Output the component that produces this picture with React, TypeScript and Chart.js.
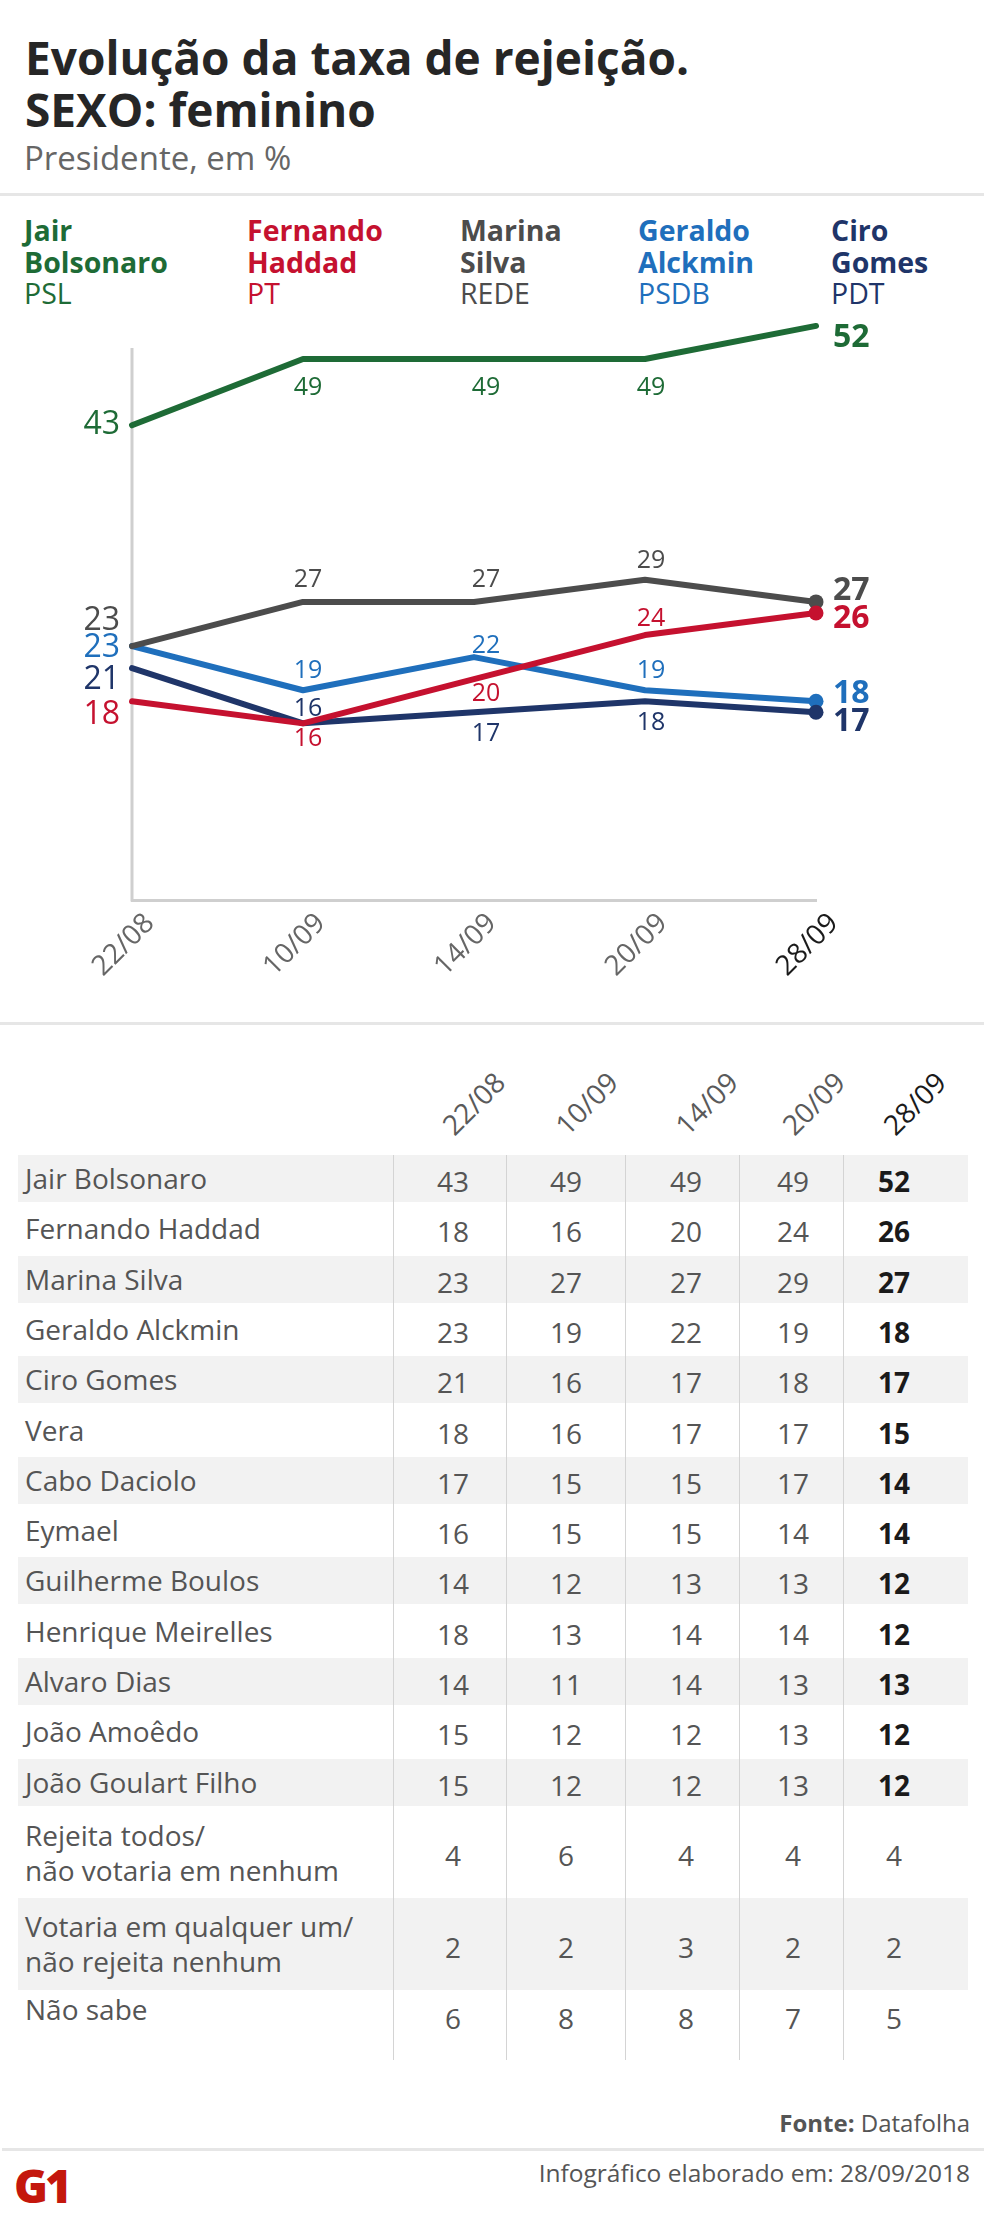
import React, { useEffect, useRef } from "react";
import { Chart, registerables } from "chart.js";

Chart.register(...registerables);

const FONT = '"Open Sans", "Noto Sans", sans-serif';

// ---------- data ----------
const dates = ["22/08", "10/09", "14/09", "20/09", "28/09"];

const bolsonaro = [43, 49, 49, 49, 52];
const haddad = [18, 16, 20, 24, 26];
const marina = [23, 27, 27, 29, 27];
const alckmin = [23, 19, 22, 19, 18];
const ciro = [21, 16, 17, 18, 17];
const vera = [18, 16, 17, 17, 15];
const daciolo = [17, 15, 15, 17, 14];
const eymael = [16, 15, 15, 14, 14];
const boulos = [14, 12, 13, 13, 12];
const meirelles = [18, 13, 14, 14, 12];
const alvaroDias = [14, 11, 14, 13, 13];
const amoedo = [15, 12, 12, 13, 12];
const goulart = [15, 12, 12, 13, 12];
const rejeitaTodos = [4, 6, 4, 4, 4];
const votariaQualquer = [2, 2, 3, 2, 2];
const naoSabe = [6, 8, 8, 7, 5];

const tableLabels = [
  "Jair Bolsonaro",
  "Fernando Haddad",
  "Marina Silva",
  "Geraldo Alckmin",
  "Ciro Gomes",
  "Vera",
  "Cabo Daciolo",
  "Eymael",
  "Guilherme Boulos",
  "Henrique Meirelles",
  "Alvaro Dias",
  "João Amoêdo",
  "João Goulart Filho",
  "Rejeita todos/\nnão votaria em nenhum",
  "Votaria em qualquer um/\nnão rejeita nenhum",
  "Não sabe",
];
const tableValues = [
  bolsonaro, haddad, marina, alckmin, ciro, vera, daciolo, eymael, boulos,
  meirelles, alvaroDias, amoedo, goulart, rejeitaTodos, votariaQualquer, naoSabe,
];

// ---------- styles ----------
const series = [
  { first: "Jair", second: "Bolsonaro", party: "PSL", color: "#1e6b36", values: bolsonaro, order: 0, dy: [-3, 27, 27, 27, 10] },
  { first: "Fernando", second: "Haddad", party: "PT", color: "#c5112f", values: haddad, order: 1, dy: [11, 14, 13, -18, 4] },
  { first: "Marina", second: "Silva", party: "REDE", color: "#4c4c4c", values: marina, order: 3, dy: [-28, -24, -24, -21, -13] },
  { first: "Geraldo", second: "Alckmin", party: "PSDB", color: "#1f6fbc", values: alckmin, order: 4, dy: [-1, -21, -13, -21, -10] },
  { first: "Ciro", second: "Gomes", party: "PDT", color: "#1f3569", values: ciro, order: 2, dy: [9, -16, 20, 20, 7] },
];
const legendX = [24, 247, 460, 638, 831];
const labelDx = [-12, 5, 12, 6, 17];
const colCenters = [453, 566, 686, 793, 894];
const colSeparators = [393, 506, 625, 739, 843];

const valueLabels = {
  id: "valueLabels",
  afterDatasetsDraw(chart: any) {
    const ctx = chart.ctx;
    chart.data.datasets.forEach((ds: any, di: number) => {
      const meta = chart.getDatasetMeta(di);
      const s = series[di];
      meta.data.forEach((pt: any, i: number) => {
        const last = i === ds.data.length - 1;
        const first = i === 0;
        let fs = 25;
        ctx.save();
        ctx.fillStyle = s.color;
        ctx.textBaseline = "alphabetic";
        if (first) {
          fs = 32;
          ctx.font = `400 ${fs}px ${FONT}`;
          ctx.textAlign = "right";
        } else if (last) {
          fs = 32;
          ctx.font = `700 ${fs}px ${FONT}`;
          ctx.textAlign = "left";
        } else {
          ctx.font = `400 ${fs}px ${FONT}`;
          ctx.textAlign = "center";
        }
        ctx.fillText(String(ds.data[i]), pt.x + labelDx[i], pt.y + s.dy[i] + 0.357 * fs);
        ctx.restore();
      });
    });
  },
};

const yAxisLine = {
  id: "yAxisLine",
  beforeDatasetsDraw(chart: any) {
    const ctx = chart.ctx;
    const y = chart.scales.y;
    const x = chart.chartArea.left;
    ctx.save();
    ctx.strokeStyle = "#cfcfcf";
    ctx.lineWidth = 3;
    ctx.beginPath();
    ctx.moveTo(x, y.getPixelForValue(50));
    ctx.lineTo(x, y.getPixelForValue(0) + 1.5);
    ctx.stroke();
    ctx.restore();
  },
};

function LineChart() {
  const ref = useRef<HTMLCanvasElement>(null);
  useEffect(() => {
    if (!ref.current) return;
    const chart = new Chart(ref.current, {
      type: "line",
      data: {
        labels: dates,
        datasets: series.map((s) => ({
          label: s.first + " " + s.second,
          data: s.values,
          borderColor: s.color,
          backgroundColor: s.color,
          pointBackgroundColor: s.color,
          borderWidth: 6,
          pointRadius: (c: any) => (c.dataIndex === dates.length - 1 ? 7.5 : 0),
          pointHoverRadius: 0,
          pointBorderWidth: 0,
          tension: 0,
          clip: false as any,
          order: s.order,
          borderCapStyle: "round",
          borderJoinStyle: "round",
        })),
      },
      options: {
        animation: false,
        responsive: false,
        maintainAspectRatio: false,
        events: [],
        layout: { padding: { left: 132, right: 168, top: 48, bottom: 0 } },
        plugins: {
          legend: { display: false },
          tooltip: { enabled: false },
          title: { display: false },
        },
        scales: {
          x: {
            type: "category",
            offset: false,
            grid: { display: false, drawTicks: false },
            border: { display: true, color: "#cfcfcf", width: 3 },
            ticks: {
              color: (c: any) => (c.index === dates.length - 1 ? "#1a1a1a" : "#666666"),
              font: { family: FONT, size: 28 },
              minRotation: 45,
              maxRotation: 45,
              autoSkip: false,
              padding: 7,
              labelOffset: 18,
            },
            afterFit: (s: any) => {
              s.height = 120;
            },
          },
          y: { display: false, min: 0, max: 50 },
        },
      },
      plugins: [yAxisLine, valueLabels],
    });
    return () => chart.destroy();
  }, []);
  return (
    <canvas
      ref={ref}
      width={984}
      height={720}
      style={{ position: "absolute", left: 0, top: 300, width: 984, height: 720 }}
    />
  );
}

function Txt(props: {
  x: number;
  baseline: number;
  fs: number;
  weight?: number;
  color: string;
  align?: "left" | "right";
  children: React.ReactNode;
}) {
  const { x, baseline, fs, weight = 400, color, align = "left", children } = props;
  const style: React.CSSProperties = {
    position: "absolute",
    top: baseline - 0.888 * fs,
    fontSize: fs,
    lineHeight: `${fs}px`,
    fontWeight: weight,
    color,
    whiteSpace: "nowrap",
  };
  if (align === "left") style.left = x;
  else style.right = 984 - x;
  return <div style={style}>{children}</div>;
}

export default function App() {
  const rowTops: number[] = [];
  const rowHeights: number[] = [];
  for (let i = 0; i < 13; i++) {
    rowTops.push(1155 + i * 50.3);
    rowHeights.push(47);
  }
  rowTops.push(1807, 1898, 1990);
  rowHeights.push(91, 92, 50);

  return (
    <div
      style={{
        position: "absolute",
        left: 0,
        top: 0,
        width: 984,
        height: 2225,
        background: "#ffffff",
        fontFamily: FONT,
        overflow: "hidden",
      }}
    >
      <Txt x={25} baseline={75} fs={46} weight={700} color="#262626">
        Evolução da taxa de rejeição.
      </Txt>
      <Txt x={25} baseline={127} fs={46} weight={700} color="#262626">
        SEXO: feminino
      </Txt>
      <Txt x={24} baseline={170} fs={33} color="#666666">
        Presidente, em %
      </Txt>
      <div style={{ position: "absolute", left: 0, top: 193, width: 984, height: 3, background: "#e6e6e6" }} />

      {series.map((s, i) => (
        <div
          key={i}
          style={{
            position: "absolute",
            left: legendX[i],
            top: 215.2,
            fontSize: 28.5,
            lineHeight: "31.5px",
            color: s.color,
            whiteSpace: "nowrap",
          }}
        >
          <div style={{ fontWeight: 700 }}>{s.first}</div>
          <div style={{ fontWeight: 700 }}>{s.second}</div>
          <div style={{ fontWeight: 400 }}>{s.party}</div>
        </div>
      ))}

      <LineChart />

      <div style={{ position: "absolute", left: 0, top: 1022, width: 984, height: 3, background: "#e6e6e6" }} />

      {/* table header */}
      {dates.map((d, i) => (
        <div
          key={d}
          style={{
            position: "absolute",
            left: colCenters[i] + 20 - 60,
            top: 1103 - 20,
            width: 120,
            height: 40,
            display: "flex",
            alignItems: "center",
            justifyContent: "center",
            fontSize: 28,
            color: i === dates.length - 1 ? "#1a1a1a" : "#5a5a5a",
            transform: "rotate(-45deg)",
          }}
        >
          {d}
        </div>
      ))}

      {/* table rows */}
      {tableLabels.map((lab, r) => (
        <React.Fragment key={r}>
          {r % 2 === 0 && (
            <div
              style={{
                position: "absolute",
                left: 18,
                top: rowTops[r],
                width: 950,
                height: rowHeights[r],
                background: "#f2f2f2",
              }}
            />
          )}
          <div
            style={{
              position: "absolute",
              left: 25,
              top: rowTops[r] + (r === tableLabels.length - 1 ? -6 : 0),
              height: rowHeights[r],
              display: "flex",
              alignItems: "center",
              fontSize: 28,
              lineHeight: "35px",
              color: "#555555",
              whiteSpace: "pre-line",
            }}
          >
            {lab}
          </div>
          {tableValues[r].map((v, c) => (
            <div
              key={c}
              style={{
                position: "absolute",
                left: colCenters[c] - 40,
                width: 80,
                top: rowTops[r] + 3,
                height: rowHeights[r],
                display: "flex",
                alignItems: "center",
                justifyContent: "center",
                fontSize: 28,
                lineHeight: "35px",
                fontWeight: c === 4 && r < 13 ? 700 : 400,
                color: c === 4 && r < 13 ? "#1a1a1a" : "#555555",
              }}
            >
              {v}
            </div>
          ))}
        </React.Fragment>
      ))}
      {colSeparators.map((x, i) => (
        <div
          key={i}
          style={{ position: "absolute", left: x, top: 1155, width: 1, height: 905, background: "#d4d4d4" }}
        />
      ))}

      <Txt x={970} baseline={2132} fs={24} color="#555555" align="right">
        <span style={{ fontWeight: 700 }}>Fonte:</span> Datafolha
      </Txt>
      <div style={{ position: "absolute", left: 2, top: 2148, width: 982, height: 3, background: "#e6e6e6" }} />
      <Txt x={970} baseline={2183} fs={24.5} color="#555555" align="right">
        Infográfico elaborado em: 28/09/2018
      </Txt>
      <Txt x={14} baseline={2203} fs={46} weight={800} color="#c4170c">
        <span style={{ letterSpacing: -3 }}>G1</span>
      </Txt>
    </div>
  );
}
